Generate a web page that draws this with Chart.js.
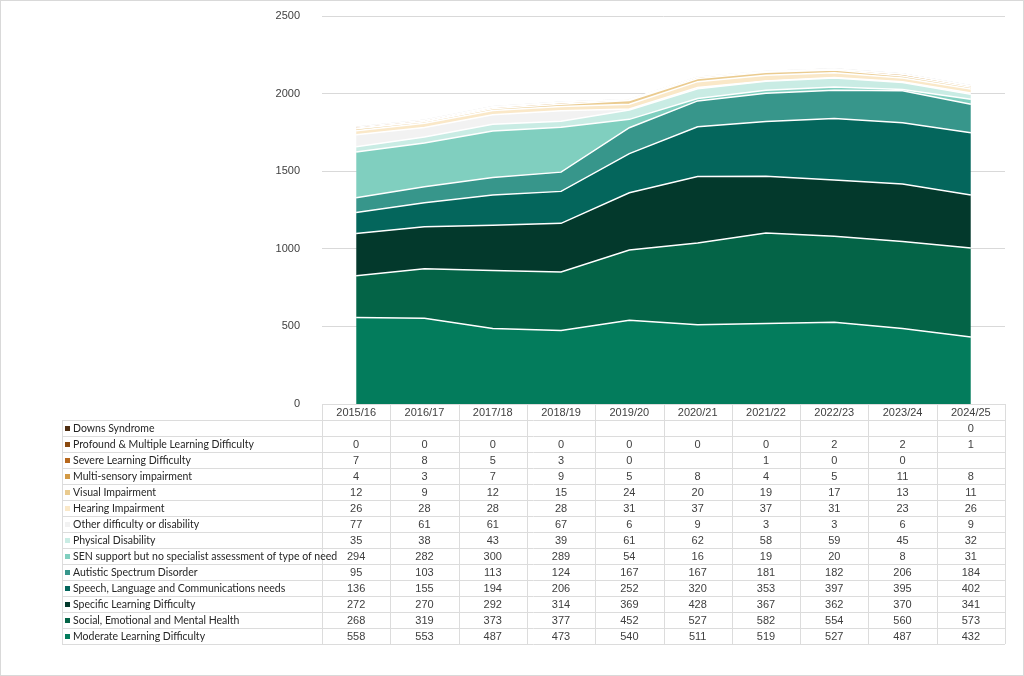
<!DOCTYPE html>
<html>
<head>
<meta charset="utf-8">
<script src="https://cdn.jsdelivr.net/npm/chart.js@4"></script>
<style>
	html, body {
		margin: 0;
		padding: 0;
		background: #ffffff;
	}
</style>
</head>
<body>
<canvas id="myChart" width="1024" height="676"></canvas>
<script>
	// school years
	const years = ['2015/16', '2016/17', '2017/18', '2018/19', '2019/20', '2020/21', '2021/22', '2022/23', '2023/24', '2024/25'];

	// one list per type of need, blank cells are null
	const moderate = [558, 553, 487, 473, 540, 511, 519, 527, 487, 432];
	const social = [268, 319, 373, 377, 452, 527, 582, 554, 560, 573];
	const specific = [272, 270, 292, 314, 369, 428, 367, 362, 370, 341];
	const speech = [136, 155, 194, 206, 252, 320, 353, 397, 395, 402];
	const autistic = [95, 103, 113, 124, 167, 167, 181, 182, 206, 184];
	const senSupport = [294, 282, 300, 289, 54, 16, 19, 20, 8, 31];
	const physical = [35, 38, 43, 39, 61, 62, 58, 59, 45, 32];
	const other = [77, 61, 61, 67, 6, 9, 3, 3, 6, 9];
	const hearing = [26, 28, 28, 28, 31, 37, 37, 31, 23, 26];
	const visual = [12, 9, 12, 15, 24, 20, 19, 17, 13, 11];
	const multiSensory = [4, 3, 7, 9, 5, 8, 4, 5, 11, 8];
	const severe = [7, 8, 5, 3, 0, null, 1, 0, 0, null];
	const profound = [0, 0, 0, 0, 0, 0, 0, 2, 2, 1];
	const downs = [null, null, null, null, null, null, null, null, null, 0];

	// bottom of the stack first
	const series = [
		{ label: 'Moderate Learning Difficulty', data: moderate, color: '#037C5C' },
		{ label: 'Social, Emotional and Mental Health', data: social, color: '#046447' },
		{ label: 'Specific Learning Difficulty', data: specific, color: '#03392C' },
		{ label: 'Speech, Language and Communications needs', data: speech, color: '#04665C' },
		{ label: 'Autistic Spectrum Disorder', data: autistic, color: '#37968B' },
		{ label: 'SEN support but no specialist assessment of type of need', data: senSupport, color: '#80CFBF' },
		{ label: 'Physical Disability', data: physical, color: '#C9ECE4' },
		{ label: 'Other difficulty or disability', data: other, color: '#F2F2F2' },
		{ label: 'Hearing Impairment', data: hearing, color: '#FAE8C8' },
		{ label: 'Visual Impairment', data: visual, color: '#EACB8F' },
		{ label: 'Multi-sensory impairment', data: multiSensory, color: '#D39A45' },
		{ label: 'Severe Learning Difficulty', data: severe, color: '#B8681C' },
		{ label: 'Profound & Multiple Learning Difficulty', data: profound, color: '#8B4A10' },
		{ label: 'Downs Syndrome', data: downs, color: '#4F2E12' }
	];

	const datasets = series.map(function (s, i) {
		return {
			label: s.label,
			data: s.data.map(function (v) { return v === null ? 0 : v; }),
			raw: s.data,
			backgroundColor: s.color,
			borderColor: i === series.length - 1 ? '#CFCFCF' : '#FFFFFF',
			borderWidth: 1.5,
			pointRadius: 0,
			tension: 0,
			fill: i === 0 ? 'origin' : '-1'
		};
	});

	// data table under the plot, columns follow the x scale
	const dataTable = {
		id: 'dataTable',
		afterDraw: function (chart) {
			const ctx = chart.ctx;
			const xs = chart.scales.x;
			const area = chart.chartArea;
			const colW = (area.right - area.left) / years.length;
			const rowH = 16;
			const top = area.bottom;
			const labelLeft = 62;
			const rows = chart.data.datasets.slice().reverse();
			const bottom = top + rowH * (rows.length + 1);

			ctx.save();
			ctx.strokeStyle = '#DCDCDC';
			ctx.lineWidth = 1;
			ctx.beginPath();
			// header row
			ctx.moveTo(area.left, top + 0.5);
			ctx.lineTo(area.right, top + 0.5);
			for (let r = 1; r <= rows.length + 1; r++) {
				const y = Math.round(top + r * rowH) + 0.5;
				ctx.moveTo(labelLeft, y);
				ctx.lineTo(area.right, y);
			}
			for (let c = 0; c <= years.length; c++) {
				const x = Math.round(area.left + c * colW) + 0.5;
				ctx.moveTo(x, top);
				ctx.lineTo(x, bottom);
			}
			ctx.moveTo(labelLeft + 0.5, top + rowH);
			ctx.lineTo(labelLeft + 0.5, bottom);
			ctx.stroke();

			ctx.fillStyle = '#404040';
			ctx.textBaseline = 'middle';
			ctx.textAlign = 'center';
			ctx.font = '11px "Liberation Sans", Arial, sans-serif';
			years.forEach(function (y, i) {
				ctx.fillText(y, xs.getPixelForValue(i), top + rowH / 2 + 1);
			});

			rows.forEach(function (ds, r) {
				const cy = top + rowH * (r + 1) + rowH / 2 + 1;
				ctx.fillStyle = ds.backgroundColor;
				ctx.fillRect(labelLeft + 3, cy - 3, 5, 5);
				ctx.fillStyle = '#262626';
				ctx.textAlign = 'left';
				ctx.font = '10.5px Lato, "Noto Sans", sans-serif';
				ctx.fillText(ds.label, labelLeft + 11, cy);
				ctx.textAlign = 'center';
				ctx.font = '11px "Liberation Sans", Arial, sans-serif';
				ctx.fillStyle = '#404040';
				ds.raw.forEach(function (v, i) {
					if (v !== null) {
						ctx.fillText(String(v), xs.getPixelForValue(i), cy);
					}
				});
			});

			// outer frame
			ctx.strokeStyle = '#D9D9D9';
			ctx.strokeRect(0.5, 0.5, chart.width - 1, chart.height - 1);
			ctx.restore();
		}
	};

	const config = {
		type: 'line',
		data: {
			labels: years,
			datasets: datasets
		},
		options: {
			responsive: false,
			animation: false,
			devicePixelRatio: 1,
			layout: {
				padding: { top: 16, right: 19, bottom: 272, left: 0 }
			},
			plugins: {
				legend: { display: false },
				tooltip: { enabled: false }
			},
			scales: {
				x: {
					display: false,
					offset: true
				},
				y: {
					stacked: true,
					min: 0,
					max: 2500,
					afterFit: function (scale) { scale.width = 322; },
					ticks: {
						stepSize: 500,
						padding: 0,
						color: '#404040',
						font: { size: 11, family: '"Liberation Sans", Arial, sans-serif' },
						callback: function (v) { return String(v); }
					},
					grid: {
						color: '#D9D9D9',
						drawTicks: true,
						tickLength: 22,
						tickColor: 'rgba(0,0,0,0)'
					},
					border: { display: false }
				}
			}
		},
		plugins: [dataTable]
	};

	const myChart = new Chart(document.getElementById('myChart'), config);
</script>
</body>
</html>
